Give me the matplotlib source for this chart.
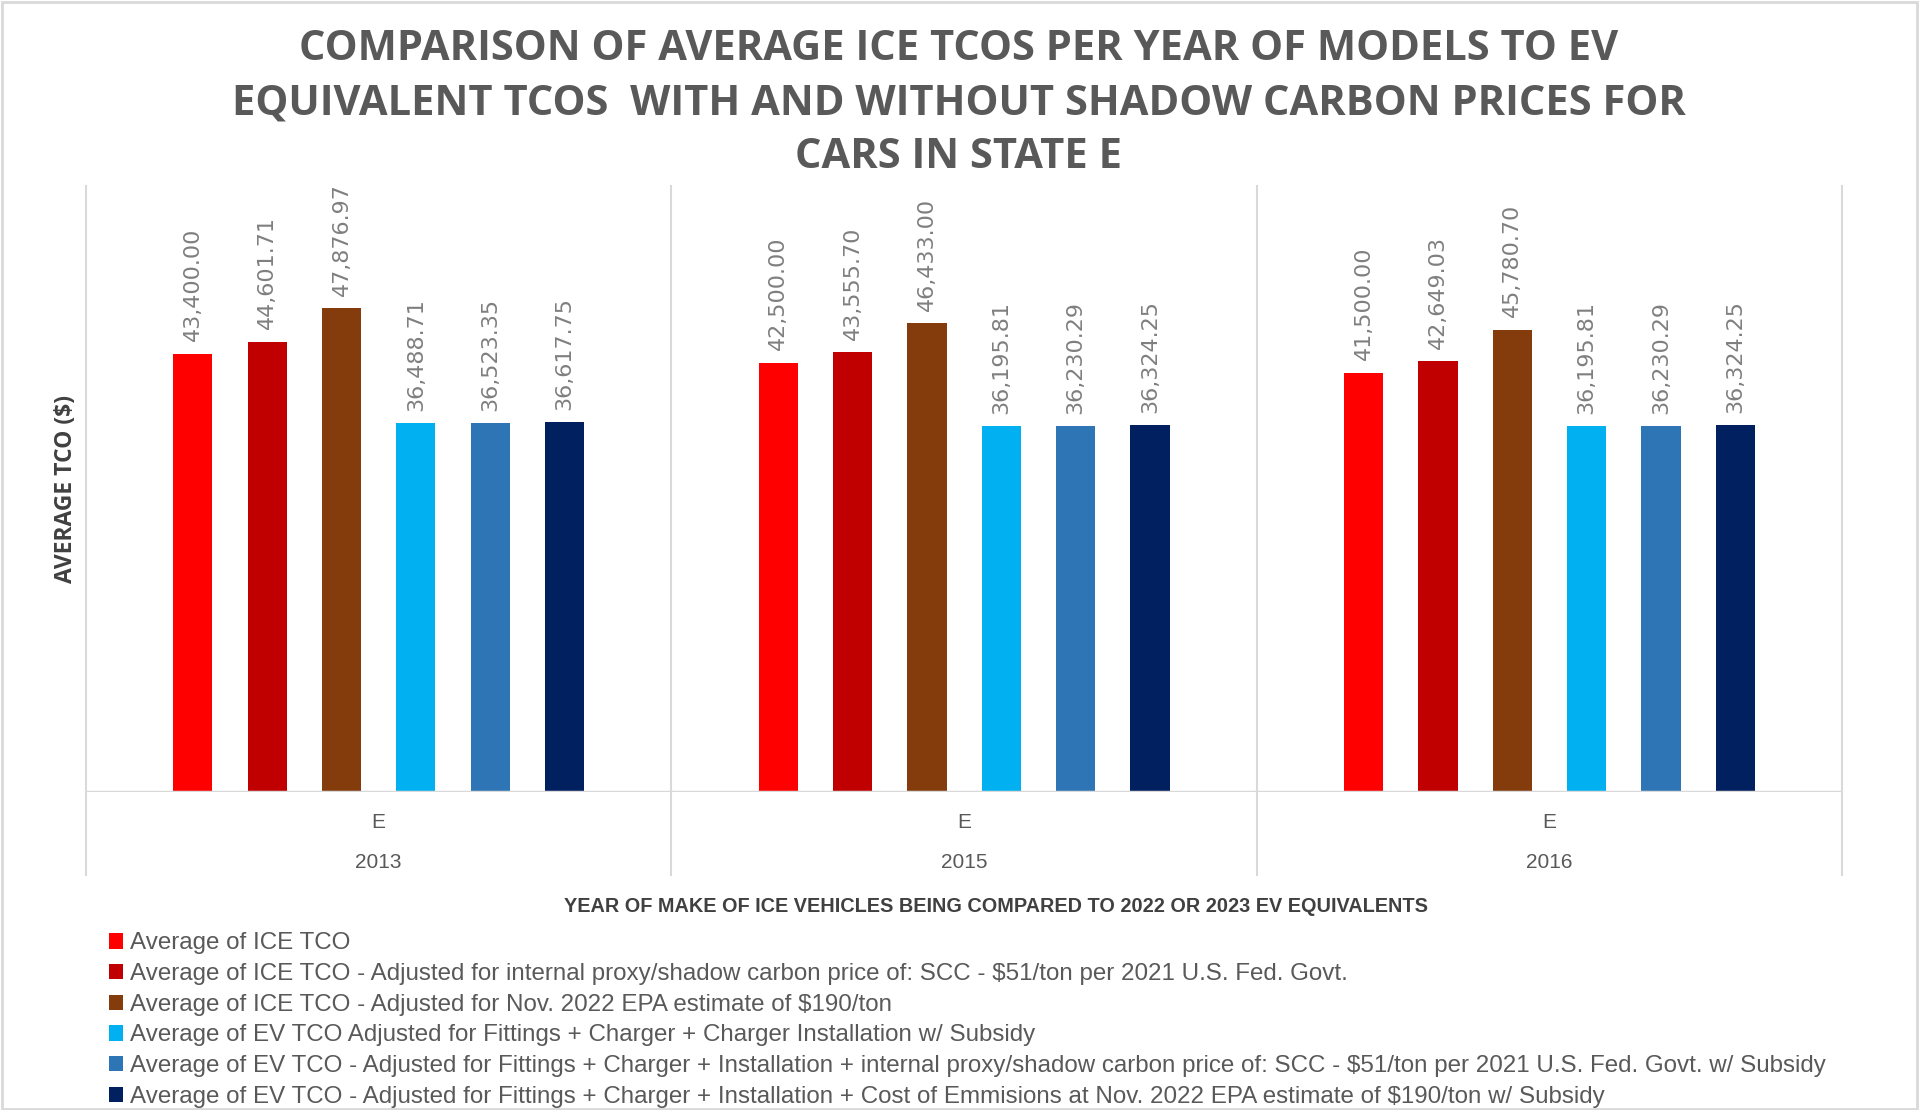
"""Average ICE vs EV TCO per model year, state E, with and without shadow carbon prices."""

import matplotlib
matplotlib.use("Agg")
import matplotlib.pyplot as plt
from matplotlib import font_manager
from matplotlib.patches import Patch, Rectangle
from matplotlib.transforms import blended_transform_factory

# --- data -------------------------------------------------------------------
years = ["2013", "2015", "2016"]
state = "E"

series_names = [
    "Average of ICE TCO",
    "Average of ICE TCO - Adjusted for internal proxy/shadow carbon price of: SCC - $51/ton per 2021 U.S. Fed. Govt.",
    "Average of ICE TCO - Adjusted for Nov. 2022 EPA estimate of $190/ton",
    "Average of EV TCO Adjusted for Fittings + Charger + Charger Installation w/ Subsidy",
    "Average of EV TCO - Adjusted for Fittings + Charger + Installation + internal proxy/shadow carbon price of: SCC - $51/ton per 2021 U.S. Fed. Govt. w/ Subsidy",
    "Average of EV TCO - Adjusted for Fittings + Charger + Installation + Cost of Emmisions at Nov. 2022 EPA estimate of $190/ton w/ Subsidy",
]

ice_tco = [43400.00, 42500.00, 41500.00]
ice_scc = [44601.71, 43555.70, 42649.03]
ice_epa = [47876.97, 46433.00, 45780.70]
ev_tco = [36488.71, 36195.81, 36195.81]
ev_scc = [36523.35, 36230.29, 36230.29]
ev_epa = [36617.75, 36324.25, 36324.25]

series_values = [ice_tco, ice_scc, ice_epa, ev_tco, ev_scc, ev_epa]
colors = ["#FF0000", "#C00000", "#843C0C", "#00B0F0", "#2E75B6", "#002060"]

# --- fonts ------------------------------------------------------------------
installed = {f.name for f in font_manager.fontManager.ttflist}
narrow = "Liberation Sans Narrow" if "Liberation Sans Narrow" in installed else "Liberation Sans"

TEXT_GREY = "#595959"
DARK_GREY = "#404040"
LINE_GREY = "#D9D9D9"

fig = plt.figure(figsize=(19.19, 11.1), dpi=100)
ax = fig.add_axes((0.0448, 0.2865, 0.9152, 0.5459))

n = len(series_values)
step = 0.127
width = 0.067
for i, (vals, color) in enumerate(zip(series_values, colors)):
    xs = [k + (i - (n - 1) / 2) * step for k in range(len(years))]
    ax.bar(xs, vals, width=width, color=color, zorder=2)
    for x, v in zip(xs, vals):
        ax.annotate(f"{v:,.2f}", (x, v), xytext=(0, 9), textcoords="offset points",
                    rotation=90, ha="center", va="bottom",
                    fontsize=16, color="#7F7F7F", family="DejaVu Sans")

ax.set_xlim(-0.5, len(years) - 0.5)
ax.set_ylim(0, 60000)
ax.set_xticks([])
ax.set_yticks([])
for spine in ax.spines.values():
    spine.set_visible(False)

# category separators reach down through the two-level axis labels
trans = blended_transform_factory(ax.transData, ax.transAxes)
for x in [k - 0.5 for k in range(len(years) + 1)]:
    ax.plot([x, x], [-0.137, 1.0], transform=trans, color=LINE_GREY,
            linewidth=1.5, clip_on=False, zorder=1)
ax.axhline(0, color=LINE_GREY, linewidth=2.5, zorder=3)

for k, year in enumerate(years):
    ax.text(k, -0.050, state, transform=trans, ha="center", va="center",
            fontsize=15, color=TEXT_GREY, family=narrow)
    ax.text(k, -0.117, year, transform=trans, ha="center", va="center",
            fontsize=15, color=TEXT_GREY, family=narrow)

ax.set_ylabel("AVERAGE TCO ($)", fontsize=16.5, fontweight="bold", color=DARK_GREY,
              family="Open Sans", labelpad=6)

fig.text(0.519, 0.183, "YEAR OF MAKE OF ICE VEHICLES BEING COMPARED TO 2022 OR 2023 EV EQUIVALENTS",
         ha="center", va="center", fontsize=14.3, fontweight="bold", color=DARK_GREY, family=narrow)

title = ("COMPARISON OF AVERAGE ICE TCOS PER YEAR OF MODELS TO EV\n"
         "EQUIVALENT TCOS  WITH AND WITHOUT SHADOW CARBON PRICES FOR\n"
         "CARS IN STATE E")
fig.text(0.4995, 0.9065, title, ha="center", va="center", fontsize=30, fontweight="bold",
         color=TEXT_GREY, family="Open Sans", linespacing=1.42)

handles = [Patch(facecolor=c, edgecolor="none") for c in colors]
fig.legend(handles, series_names, loc="upper left", bbox_to_anchor=(0.0568, 0.160),
           frameon=False, handlelength=0.6, handleheight=0.6,
           handletextpad=0.25, labelspacing=0.36, borderpad=0, borderaxespad=0,
           labelcolor=TEXT_GREY, prop={"family": narrow, "size": 17.4})

# light chart-area border
fig.add_artist(Rectangle((0.001, 0.001), 0.998, 0.997, transform=fig.transFigure,
                         fill=False, edgecolor=LINE_GREY, linewidth=2))

fig.savefig("out.png", dpi=100, facecolor="white")
